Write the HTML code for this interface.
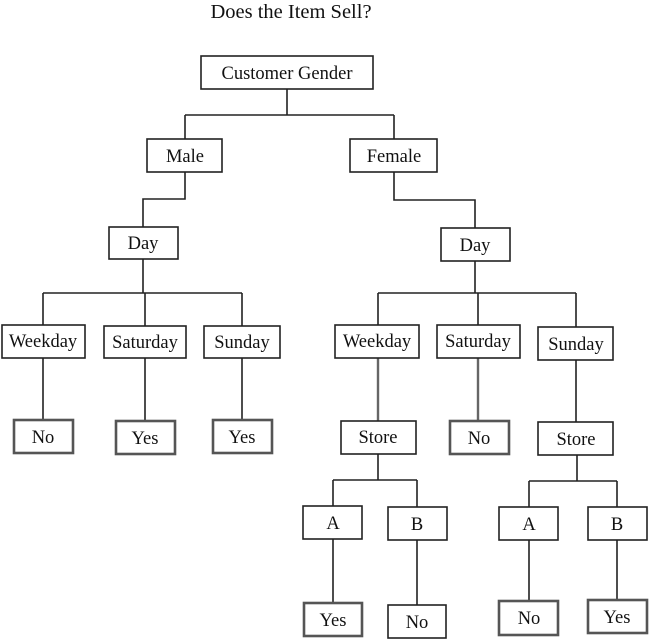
<!DOCTYPE html>
<html><head><meta charset="utf-8"><style>
html,body{margin:0;padding:0;background:#fff;}
svg{display:block;}
text{font-family:"Liberation Serif",serif;font-size:18.5px;fill:#111;text-anchor:middle;}
.n{fill:#fff;stroke:#222;stroke-width:1.6;}
.l{fill:#fff;stroke:#555;stroke-width:2.6;}
.c{fill:none;stroke:#222;stroke-width:1.6;}
.g{fill:none;stroke:#666;stroke-width:2.4;}
</style></head><body>
<svg width="650" height="644" viewBox="0 0 650 644" xmlns="http://www.w3.org/2000/svg">
<text x="291" y="18" style="font-size:20.5px">Does the Item Sell?</text>

<path class="c" d="M287 89V115M185 115H394M185 115V139M394 115V139"/>
<path class="c" d="M185 172V199H143V227"/>
<path class="c" d="M394 172V200H475V228"/>
<path class="c" d="M143 259V293M43 293H242M43 293V325M145 293V326M242 293V326"/>
<path class="c" d="M43 358V420M145 358V421M242 358V420"/>
<path class="c" d="M475 261V293M378 293H576M378 293V325M478 293V325M576 293V327"/>
<path class="g" d="M378 358V421M478 358V421"/>
<path class="c" d="M576 360V422"/>
<path class="c" d="M378 454V480M333 480H417M333 480V506M417 480V507"/>
<path class="c" d="M577 455V481M529 481H617M529 481V507M617 481V507"/>
<path class="c" d="M333 539V603M417 540V605M529 540V601M617 540V600"/>

<rect class="n" x="201" y="56" width="172" height="33"/><text x="287" y="79">Customer Gender</text>
<rect class="n" x="147" y="139" width="75" height="33"/><text x="185" y="162">Male</text>
<rect class="n" x="350" y="139" width="87" height="33"/><text x="394" y="162">Female</text>
<rect class="n" x="109" y="227" width="69" height="32"/><text x="143" y="249">Day</text>
<rect class="n" x="441" y="228" width="69" height="33"/><text x="475" y="251">Day</text>

<rect class="n" x="2" y="325" width="83" height="33"/><text x="43" y="347">Weekday</text>
<rect class="n" x="104" y="326" width="82" height="32"/><text x="145" y="348">Saturday</text>
<rect class="n" x="204" y="326" width="76" height="32"/><text x="242" y="348">Sunday</text>

<rect class="n" x="335" y="325" width="84" height="33"/><text x="377" y="347">Weekday</text>
<rect class="n" x="437" y="325" width="83" height="33"/><text x="478" y="347">Saturday</text>
<rect class="n" x="538" y="327" width="75" height="33"/><text x="576" y="350">Sunday</text>

<rect class="l" x="14" y="420" width="59" height="33"/><text x="43" y="443">No</text>
<rect class="l" x="116" y="421" width="59" height="33"/><text x="145" y="444">Yes</text>
<rect class="l" x="213" y="420" width="59" height="33"/><text x="242" y="443">Yes</text>

<rect class="n" x="341" y="421" width="75" height="33"/><text x="378" y="443">Store</text>
<rect class="l" x="450" y="421" width="59" height="33"/><text x="479" y="444">No</text>
<rect class="n" x="538" y="422" width="75" height="33"/><text x="576" y="445">Store</text>

<rect class="n" x="303" y="506" width="59" height="33"/><text x="333" y="529">A</text>
<rect class="n" x="388" y="507" width="59" height="33"/><text x="417" y="530">B</text>
<rect class="n" x="499" y="507" width="59" height="33"/><text x="529" y="530">A</text>
<rect class="n" x="588" y="507" width="59" height="33"/><text x="617" y="530">B</text>

<rect class="l" x="304" y="603" width="58" height="33"/><text x="333" y="626">Yes</text>
<rect class="n" x="388" y="605" width="58" height="33"/><text x="417" y="628">No</text>
<rect class="l" x="499" y="601" width="59" height="34"/><text x="529" y="624">No</text>
<rect class="l" x="588" y="600" width="59" height="33"/><text x="617" y="623">Yes</text>
</svg>
</body></html>
